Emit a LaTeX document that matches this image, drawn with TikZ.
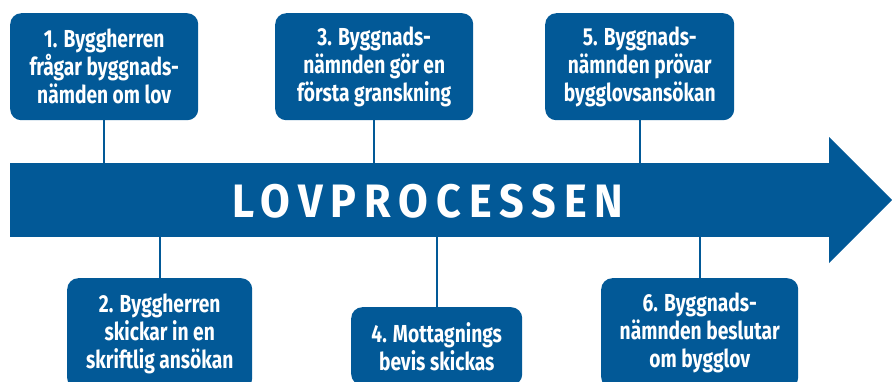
\documentclass[tikz,border=0pt]{standalone}
\usepackage{fontspec}
\usepackage{xcolor}
\usepackage{tikz}
\usetikzlibrary{positioning}

\newfontfamily\boxfont{Fira Sans}[FakeStretch=0.78]
\newfontfamily\titlefont{Fira Sans}[FakeStretch=0.92, LetterSpace=17]

\begin{document}
\begin{tikzpicture}[x=0.03cm, y=-0.03cm]

% ------------------------
% Colors and sizes
% ------------------------
\definecolor{colBlue}{RGB}{2,89,151}
\def\u{0.03cm} % one pixel of the reference

\tikzset{
  stepbox/.style={fill=colBlue, rounded corners=11*\u, text=white, inner sep=0pt,
    align=center, font=\boxfont\bfseries\fontsize{21}{23.9}\selectfont},
  link/.style={draw=colBlue, line width=1.7pt},
}

\useasboundingbox (0,0) rectangle (892,381);
\clip (0,0) rectangle (892,381);

% ------------------------
% The arrow
% ------------------------
\node[fill=colBlue, minimum width=821*\u, minimum height=74*\u, inner sep=0pt,
  anchor=north west] (bar) at (10,163) {};
\fill[colBlue] (829,137) -- (892,200) -- (829,263) -- cycle;
\node[text=white, font=\titlefont\bfseries\fontsize{40}{41}\selectfont] (title)
  at (428,201) {LOVPROCESSEN};

% ------------------------
% TOP ROW: steps 1, 3, 5
% ------------------------
\node[stepbox, minimum width=188*\u, minimum height=107*\u, anchor=north west] (s1)
  at (10,13) {1. Byggherren\\frågar byggnads-\\nämden om lov};
\node[stepbox, minimum width=198*\u, minimum height=107*\u, anchor=north west] (s3)
  at (275,13) {3. Byggnads-\\nämnden gör en\\första granskning};
\node[stepbox, minimum width=189*\u, minimum height=107*\u, anchor=north west] (s5)
  at (545,13) {5. Byggnads-\\nämnden prövar\\bygglovsansökan};

\draw[link] (s1.south) -- (s1.south |- bar.north);
\draw[link] (s3.south) -- (s3.south |- bar.north);
\draw[link] (s5.south) -- (s5.south |- bar.north);

% ------------------------
% BOTTOM ROW: steps 2, 4, 6
% ------------------------
\node[stepbox, minimum width=185*\u, minimum height=111*\u, anchor=north west] (s2)
  at (67,278) {2. Byggherren\\skickar in en\\skriftlig ansökan};
\node[stepbox, minimum width=171*\u, minimum height=78*\u, anchor=north west] (s4)
  at (351,307) {4. Mottagnings\\bevis skickas};
\node[stepbox, minimum width=197*\u, minimum height=110*\u, anchor=north west] (s6)
  at (601,278) {6. Byggnads-\\nämnden beslutar\\om bygglov};

\draw[link] (s2.north) -- (s2.north |- bar.south);
\draw[link] (s4.north) -- (s4.north |- bar.south);
\draw[link] (s6.north) -- (s6.north |- bar.south);

\end{tikzpicture}
\end{document}
